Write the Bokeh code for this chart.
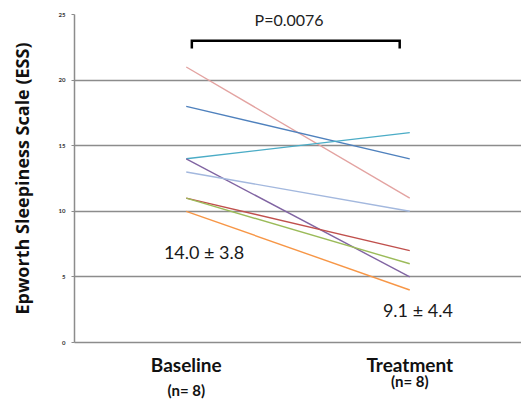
from bokeh.plotting import figure
from bokeh.models import Range1d, FixedTicker, Label, CategoricalAxis, FactorRange
from bokeh.embed import file_html
from bokeh.resources import INLINE

categories = ["Baseline", "Treatment"]
n_labels = ["(n= 8)", "(n= 8)"]
baseline = [21, 18, 14, 14, 13, 11, 11, 10]
treatment = [11, 14, 16, 5, 10, 7, 6, 4]
colors = ["#E3A3A1", "#4F81BD", "#4BACC6", "#8064A2", "#A3B8DE", "#C0504D", "#9BBB59", "#F79646"]
y_ticks = [0, 5, 10, 15, 20, 25]
p_text = "P=0.0076"
mean_texts = ["14.0 \u00b1 3.8", "9.1 \u00b1 4.4"]
y_title = "Epworth Sleepiness Scale (ESS)"

FONT = "Lato"

p = figure(width=521, height=401, x_range=categories, y_range=Range1d(0, 25),
           output_backend="svg", toolbar_location=None,
           min_border_left=74, min_border_right=0, min_border_top=14, min_border_bottom=58)
p.outline_line_color = None
p.background_fill_color = "white"
p.border_fill_color = "white"

# grid
p.xgrid.grid_line_color = None
p.ygrid.grid_line_color = "#8C8C8C"
p.ygrid.grid_line_width = 1.5
p.ygrid.ticker = FixedTicker(ticks=y_ticks)

# y axis
p.yaxis.ticker = FixedTicker(ticks=y_ticks)
p.yaxis.axis_line_color = "#8C8C8C"
p.yaxis.axis_line_width = 1.5
p.yaxis.major_tick_line_color = "#8C8C8C"
p.yaxis.major_tick_out = 3
p.yaxis.major_tick_in = 0
p.yaxis.minor_tick_line_color = None
p.yaxis.major_label_text_font_size = "6px"
p.yaxis.major_label_text_font_style = "bold"
p.yaxis.major_label_text_font = FONT
p.yaxis.major_label_text_color = "#333333"
p.yaxis.major_label_standoff = 6
p.yaxis.axis_label = y_title
p.yaxis.axis_label_text_font = "Open Sans"
p.yaxis.axis_label_text_font_size = "18px"
p.yaxis.axis_label_text_font_style = "bold"
p.yaxis.axis_label_text_color = "#111111"
p.yaxis.axis_label_standoff = 22

# x axis
p.xaxis.axis_line_color = "#8C8C8C"
p.xaxis.axis_line_width = 1.5
p.xaxis.major_tick_line_color = None
p.xaxis.major_tick_out = 0
p.xaxis.major_tick_in = 0
p.xaxis.major_label_text_font = FONT
p.xaxis.major_label_text_font_style = "bold"
p.xaxis.major_label_text_font_size = "19px"
p.xaxis.major_label_text_color = "#111111"
p.xaxis.major_label_standoff = 10

# "(n= 8)" rows: one extra axis per category (Treatment row first, Baseline row lower)
n_standoff = {"Treatment": -7, "Baseline": -12}
for cat in ["Treatment", "Baseline"]:
    i = categories.index(cat)
    row_factors = [n_labels[j] if j == i else " " * (j + 1) for j in range(len(categories))]
    name = "n_" + cat
    p.extra_x_ranges[name] = FactorRange(factors=row_factors)
    ax = CategoricalAxis(x_range_name=name,
                         axis_line_color=None, major_tick_line_color=None,
                         minor_tick_line_color=None, major_tick_out=0, major_tick_in=0,
                         major_label_standoff=n_standoff[cat],
                         major_label_text_font=FONT, major_label_text_font_size="15px",
                         major_label_text_font_style="bold", major_label_text_color="#111111")
    p.add_layout(ax, "below")

# subject lines
for b, t, c in zip(baseline, treatment, colors):
    p.line(x=categories, y=[b, t], line_color=c, line_width=1.4)

# significance bracket
br_y, br_drop = 23.0, 0.6
br_x0, br_x1 = 0.525, 1.455
p.line(x=[br_x0, br_x0, br_x1, br_x1], y=[br_y - br_drop, br_y, br_y, br_y - br_drop],
       line_color="black", line_width=2.5, line_join="miter")

p.add_layout(Label(x=0.96, y=24.6, text=p_text, text_font=FONT, text_font_size="16px",
                   text_align="center", text_baseline="middle", text_color="#222222"))

# mean +- sd labels
p.add_layout(Label(x=0.40, y=6.9, text=mean_texts[0], text_font=FONT, text_font_size="18px",
                   text_align="left", text_baseline="middle", text_color="#1a1a1a"))
p.add_layout(Label(x=1.38, y=2.45, text=mean_texts[1], text_font=FONT, text_font_size="18px",
                   text_align="left", text_baseline="middle", text_color="#1a1a1a"))

open("out.html", "w").write(file_html(p, INLINE))
